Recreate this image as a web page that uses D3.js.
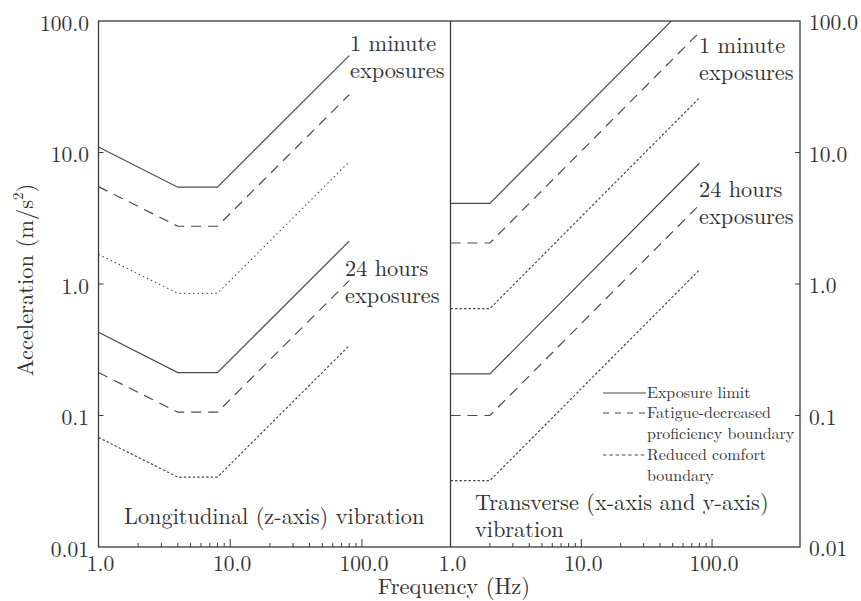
<!DOCTYPE html>
<html>
<head>
<meta charset="utf-8">
<script src="https://cdn.jsdelivr.net/npm/d3@7"></script>
<style>
  body { margin: 0; background: #fff; }
</style>
</head>
<body>
<div id="chart"></div>
<script>
// ISO style vibration limits, two panels on a shared log-log frame

var width = 861
var height = 601

var left = 98.5, mid = 450.5, right = 800
var top_y = 21, bottom_y = 547

var font = "'Latin Modern Roman', 'Liberation Serif', serif"

// frequencies where the curves bend (Hz)
var freq_z = [1, 4, 8, 80]
var freq_xy = [1, 2, 80]

// longitudinal (z-axis) accelerations, m/s^2, at freq_z
var z_exposure_1min = [11.0, 5.45, 5.45, 54.5]
var z_fatigue_1min = [5.5, 2.75, 2.75, 27.5]
var z_comfort_1min = [1.68, 0.85, 0.85, 8.5]
var z_exposure_24h = [0.43, 0.212, 0.212, 2.12]
var z_fatigue_24h = [0.212, 0.106, 0.106, 1.06]
var z_comfort_24h = [0.068, 0.034, 0.034, 0.34]

// transverse (x / y axis) accelerations at freq_xy
var xy_exposure_1min = [4.1, 4.1, 164]
var xy_fatigue_1min = [2.05, 2.05, 82]
var xy_comfort_1min = [0.65, 0.65, 26]
var xy_exposure_24h = [0.207, 0.207, 8.28]
var xy_fatigue_24h = [0.1, 0.1, 4.0]
var xy_comfort_24h = [0.032, 0.032, 1.28]

var y_ticks = [100, 10, 1, 0.1, 0.01]
var y_tick_labels = ["100.0", "10.0", "1.0", "0.1", "0.01"]
var x_ticks = [1, 10, 100]
var x_tick_labels = ["1.0", "10.0", "100.0"]
var minor_ticks = [2, 3, 4, 5, 6, 7, 8, 9, 20, 30, 40, 50, 60, 70, 80, 90]

var legend_labels = [["Exposure limit"], ["Fatigue-decreased", "proficiency boundary"], ["Reduced comfort", "boundary"]]

var line_color = "#4a4a4a"
var frame_color = "#3a3a3a"
var text_color = "#333"
var dash_style = "10,7"

var svg = d3.select("#chart")
  .append("svg")
    .attr("width", width)
    .attr("height", height)

// every label goes through here so the serif face sticks
function label(parent, size) {
  return parent.append("text")
    .attr("fill", text_color)
    .attr("font-family", font)
    .style("font-family", font, "important")
    .style("font-size", size + "px")
}

var y = d3.scaleLog().domain([0.01, 100]).range([bottom_y, top_y])
var x_z = d3.scaleLog().domain([1, 470]).range([left, mid])
var x_xy = d3.scaleLog().domain([1, 470]).range([mid, right])

// clip each panel so the steep curves stop at the top border
var defs = svg.append("defs")
defs.append("clipPath").attr("id", "clip_z")
  .append("rect").attr("x", left).attr("y", top_y).attr("width", mid - left).attr("height", bottom_y - top_y)
defs.append("clipPath").attr("id", "clip_xy")
  .append("rect").attr("x", mid).attr("y", top_y).attr("width", right - mid).attr("height", bottom_y - top_y)

function drawCurves(id, xs, freqs, curves) {
  var g = svg.append("g").attr("clip-path", "url(#" + id + ")")
  var line = d3.line()
    .x(function(d) { return xs(d[0]) })
    .y(function(d) { return y(d[1]) })
  curves.forEach(function(c) {
    g.append("path")
      .datum(d3.zip(freqs, c.values))
      .attr("d", line)
      .attr("fill", "none")
      .attr("stroke", line_color)
      .attr("stroke-width", 1.2)
      .attr("stroke-dasharray", c.dash)
  })
}

drawCurves("clip_z", x_z, freq_z, [
  {values: z_exposure_1min, dash: null},
  {values: z_fatigue_1min, dash: dash_style},
  {values: z_comfort_1min, dash: "1.3,3.2"},
  {values: z_exposure_24h, dash: null},
  {values: z_fatigue_24h, dash: dash_style},
  {values: z_comfort_24h, dash: "2.5,2"}
])

drawCurves("clip_xy", x_xy, freq_xy, [
  {values: xy_exposure_1min, dash: null},
  {values: xy_fatigue_1min, dash: dash_style},
  {values: xy_comfort_1min, dash: "2.5,2"},
  {values: xy_exposure_24h, dash: null},
  {values: xy_fatigue_24h, dash: dash_style},
  {values: xy_comfort_24h, dash: "2.5,2"}
])

/* ------- FRAME -------*/
svg.append("rect")
  .attr("x", left).attr("y", top_y)
  .attr("width", right - left).attr("height", bottom_y - top_y)
  .attr("fill", "none")
  .attr("stroke", frame_color)
  .attr("stroke-width", 1.3)
svg.append("line")
  .attr("x1", mid).attr("x2", mid)
  .attr("y1", top_y).attr("y2", bottom_y)
  .attr("stroke", frame_color)
  .attr("stroke-width", 1.3)

// x ticks point inward from the bottom line
;[x_z, x_xy].forEach(function(xs) {
  svg.append("g").selectAll("line")
    .data(minor_ticks.concat([10, 100]))
    .enter()
    .append("line")
      .attr("x1", function(d) { return xs(d) })
      .attr("x2", function(d) { return xs(d) })
      .attr("y1", bottom_y)
      .attr("y2", function(d) { return bottom_y - (d == 10 || d == 100 ? 8 : 4) })
      .attr("stroke", frame_color)
      .attr("stroke-width", 1)

  x_ticks.forEach(function(d, i) {
    label(svg, 21.5)
      .attr("x", xs(d) + 2)
      .attr("y", 571)
      .attr("text-anchor", "middle")
      .text(x_tick_labels[i])
  })
})

// y ticks, left and right sides
var inner_y = y_ticks.slice(1, 4)
svg.append("g").selectAll("line")
  .data(inner_y)
  .enter()
  .append("line")
    .attr("x1", left).attr("x2", left + 5)
    .attr("y1", function(d) { return y(d) })
    .attr("y2", function(d) { return y(d) })
    .attr("stroke", frame_color)
svg.append("g").selectAll("line")
  .data(inner_y)
  .enter()
  .append("line")
    .attr("x1", right - 5).attr("x2", right)
    .attr("y1", function(d) { return y(d) })
    .attr("y2", function(d) { return y(d) })
    .attr("stroke", frame_color)

y_ticks.forEach(function(d, i) {
  label(svg, 21.5)
    .attr("x", 89)
    .attr("y", y(d) + 9.5)
    .attr("text-anchor", "end")
    .text(y_tick_labels[i])
  label(svg, 21.5)
    .attr("x", 809)
    .attr("y", y(d) + 9)
    .text(y_tick_labels[i])
})

/* ------- AXIS TITLES -------*/
label(svg, 22.5)
  .attr("x", 454).attr("y", 594)
  .attr("text-anchor", "middle")
  .text("Frequency (Hz)")

var y_title = label(svg, 22.5)
  .attr("transform", "translate(33," + ((top_y + bottom_y) / 2 - 4) + ") rotate(-90)")
  .attr("text-anchor", "middle")
y_title.append("tspan").text("Acceleration (m/s")
y_title.append("tspan").attr("baseline-shift", "super").style("font-size", "15px").text("2")
y_title.append("tspan").text(")")

/* ------- ANNOTATIONS -------*/
// one text per line, 26.5px apart
function twoLines(x0, y0, lines) {
  lines.forEach(function(s, i) {
    label(svg, 22.3)
      .attr("x", x0)
      .attr("y", y0 + i * 26.5)
      .text(s)
  })
}

twoLines(350, 51, ["1 minute", "exposures"])
twoLines(345, 276, ["24 hours", "exposures"])
twoLines(699, 53, ["1 minute", "exposures"])
twoLines(699, 197, ["24 hours", "exposures"])
twoLines(124, 524, ["Longitudinal (z-axis) vibration"])
twoLines(475, 510, ["Transverse (x-axis and y-axis)", "vibration"])

/* ------- LEGEND -------*/
var legend_dash = [null, "6,6", "3.5,2.8"]
var legend_rows = [398, 418, 460]
var legend = svg.append("g")

legend_labels.forEach(function(lines, i) {
  legend.append("line")
    .attr("x1", 603).attr("x2", 646)
    .attr("y1", legend_rows[i] - 5).attr("y2", legend_rows[i] - 5)
    .attr("stroke", line_color)
    .attr("stroke-width", 1.2)
    .attr("stroke-dasharray", legend_dash[i])
  lines.forEach(function(s, j) {
    label(legend, 16)
      .attr("x", 647)
      .attr("y", legend_rows[i] + j * 20.5)
      .text(s)
  })
})
</script>
</body>
</html>
